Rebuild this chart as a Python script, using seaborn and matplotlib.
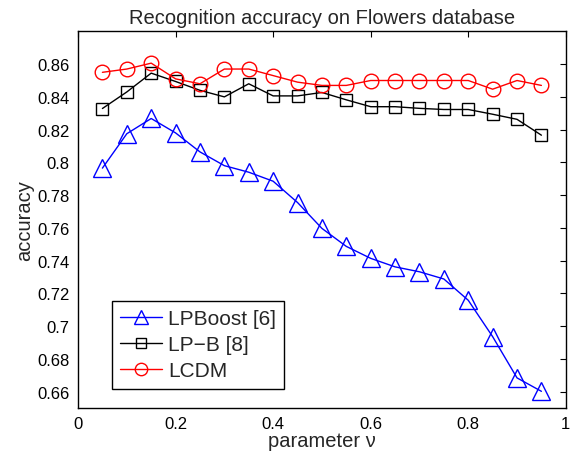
import numpy as np
import pandas as pd
import matplotlib
matplotlib.use('Agg')
import matplotlib.pyplot as plt
import seaborn as sns

# parameter nu
nu = [0.05, 0.10, 0.15, 0.20, 0.25, 0.30, 0.35, 0.40, 0.45, 0.50,
      0.55, 0.60, 0.65, 0.70, 0.75, 0.80, 0.85, 0.90, 0.95]

lpboost = [0.7965, 0.8175, 0.8268, 0.8180, 0.8064, 0.7980, 0.7940, 0.7885, 0.7755, 0.7597,
           0.7487, 0.7414, 0.7362, 0.7332, 0.7288, 0.7158, 0.6936, 0.6684, 0.6602]
lpb = [0.8329, 0.8430, 0.8545, 0.8494, 0.8440, 0.8400, 0.8480, 0.8406, 0.8406, 0.8427,
       0.8382, 0.8340, 0.8340, 0.8330, 0.8323, 0.8323, 0.8294, 0.8263, 0.8166]
lcdm = [0.8550, 0.8570, 0.8606, 0.8510, 0.8480, 0.8570, 0.8570, 0.8530, 0.8490, 0.8470,
        0.8470, 0.8500, 0.8500, 0.8500, 0.8500, 0.8500, 0.8447, 0.8500, 0.8470]

series_names = ['LPBoost [6]', 'LP\u2212B [8]', 'LCDM']
yticks = [0.66, 0.68, 0.70, 0.72, 0.74, 0.76, 0.78, 0.80, 0.82, 0.84, 0.86]
ytick_labels = ['0.66', '0.68', '0.7', '0.72', '0.74', '0.76', '0.78', '0.8', '0.82', '0.84', '0.86']
xticks = [0, 0.2, 0.4, 0.6, 0.8, 1]
xtick_labels = ['0', '0.2', '0.4', '0.6', '0.8', '1']

df = pd.DataFrame({'nu': nu, series_names[0]: lpboost,
                   series_names[1]: lpb, series_names[2]: lcdm})

sns.set_style('white')
plt.rcParams['font.family'] = ['Liberation Sans', 'DejaVu Sans']
plt.rcParams['font.size'] = 12

fig = plt.figure(figsize=(5.75, 4.56), dpi=100)
ax = fig.add_axes([0.1357, 0.103, 0.8483, 0.826])

styles = [('blue', '^', 12.5), ('black', 's', 9), ('red', 'o', 10.5)]
for name, (col, mk, ms) in zip(series_names, styles):
    sns.lineplot(data=df, x='nu', y=name, ax=ax, color=col, marker=mk, markersize=ms,
                 markerfacecolor='none', markeredgecolor=col, markeredgewidth=1,
                 linewidth=1, label=name)

ax.set_xlim(0, 1)
ax.set_ylim(0.65, 0.88)
ax.set_xticks(xticks)
ax.set_xticklabels(xtick_labels)
ax.set_yticks(yticks)
ax.set_yticklabels(ytick_labels)
ax.tick_params(direction='in', length=4, width=0.8, top=True, right=True,
               labelsize=12, colors='black', pad=6)
for s in ax.spines.values():
    s.set_color('black')
    s.set_linewidth(1)

ax.set_title('Recognition accuracy on Flowers database', fontsize=14.5, pad=6)
ax.set_xlabel('parameter \u03bd', fontsize=14.5, labelpad=0)
ax.set_ylabel('accuracy', fontsize=14.5, labelpad=2)

leg = ax.legend(loc='lower left', bbox_to_anchor=(0.069, 0.051), borderaxespad=0,
                fontsize=15, handlelength=2.0, frameon=True, fancybox=False,
                framealpha=1, edgecolor='black', borderpad=0.4, labelspacing=0.35,
                handletextpad=0.3, markerscale=0.85)
leg.get_frame().set_linewidth(1)

fig.savefig('out.png', dpi=100)
